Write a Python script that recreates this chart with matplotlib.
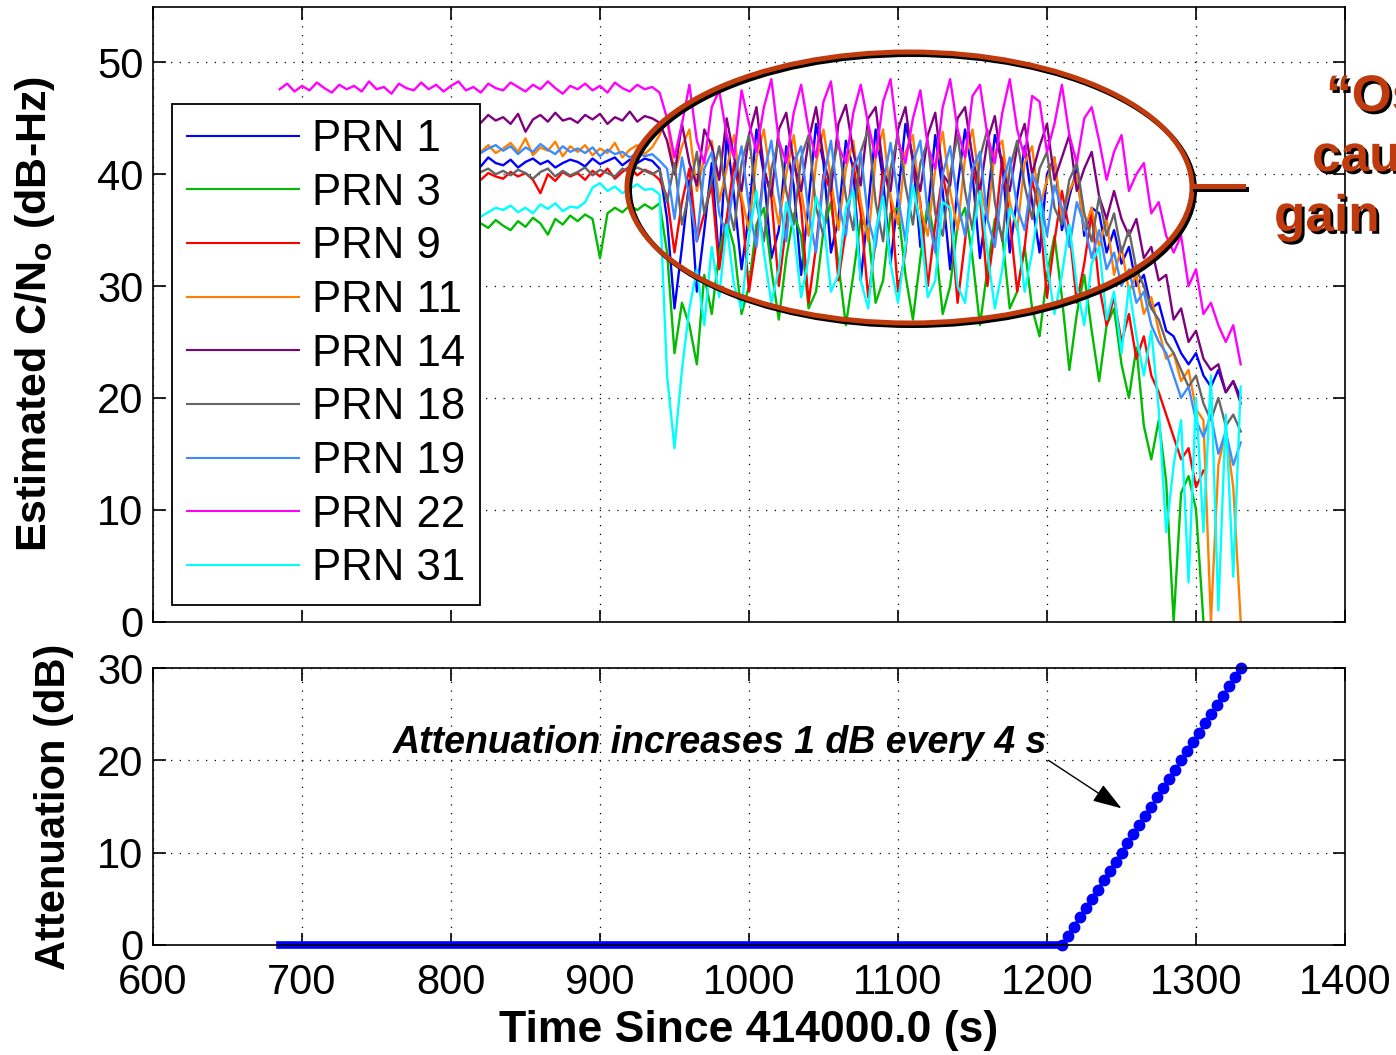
import numpy as np
import matplotlib
matplotlib.use("Agg")
import matplotlib.pyplot as plt
import matplotlib.patheffects as pe
from matplotlib.patches import Ellipse
from matplotlib.lines import Line2D

plt.rcParams["font.family"] = ["Liberation Sans", "DejaVu Sans"]
plt.rcParams["mathtext.fontset"] = "custom"
plt.rcParams["mathtext.rm"] = "Liberation Sans:bold"
plt.rcParams["mathtext.bf"] = "Liberation Sans:bold"

# ---------------------------------------------------------------------
# Data (one sample every 5 s from 685 s to 1330 s)
# ---------------------------------------------------------------------
t = np.arange(685, 1331, 5)
nan = np.nan

cn0_prn1 = [
    41.2, 40.7, 41.5, 40.9, 41.3, 40.6, 41.1, 41.4, 40.8, 41.2,
    40.9, 41.4, 40.6, 41.2, 40.8, 41.5, 41.0, 40.7, 41.3, 40.9,
    41.3, 40.8, 41.1, 40.5, 41.4, 40.9, 41.2, 40.7, 41.5, 41.0,
    40.8, 41.3, 40.6, 41.1, 41.4, 40.9, 41.2, 40.6, 41.0, 41.3,
    41.1, 40.7, 41.4, 40.9, 41.2, 41.5, 40.8, 41.3, 41.0, 41.4,
    41.2, 40.5, 36.0, 28.0, 33.5, 39.5, 29.5, 35.0, 41.0, 32.0,
    43.5, 38.0, 31.5, 36.5, 44.0, 40.0, 32.5, 35.0, 42.5, 39.0,
    31.0, 37.5, 44.5, 41.0, 33.0, 36.0, 43.0, 40.5, 30.5, 37.0,
    44.0, 39.5, 32.0, 38.0, 44.5, 41.5, 33.5, 36.5, 43.5, 38.5,
    31.5, 39.0, 44.0, 40.0, 32.5, 37.5, 43.5, 41.0, 33.0, 38.0,
    42.5, 37.5, 33.0, 40.0, 41.5, 35.0, 38.0, 40.5, 34.5, 37.0,
    36.5, 33.0, 35.0, 32.0, 33.5, 30.0, 31.0, 28.0, 28.5, 26.0,
    25.5, 24.0, 23.0, 24.0, 22.0, 21.0, 22.5, 20.5, 21.5, 20.0,
]
cn0_prn3 = [
    34.6, 34.1, 34.9, 34.3, 34.7, 33.9, 34.5, 34.8, 34.2, 34.6,
    34.3, 34.8, 34.0, 34.6, 34.4, 35.0, 34.2, 34.7, 34.5, 34.9,
    34.6, 35.1, 34.4, 35.0, 34.7, 35.3, 34.8, 35.6, 35.2, 35.9,
    35.4, 35.0, 35.8, 35.3, 36.1, 35.6, 34.6, 36.0, 35.5, 36.3,
    35.8, 36.4, 36.0, 32.5, 36.5, 37.0, 36.6, 37.2, 36.8, 37.3,
    36.9, 37.4, 33.0, 24.0, 28.5, 26.5, 23.0, 31.0, 27.5, 33.0,
    36.0, 33.5, 27.5, 30.0, 35.5, 37.0, 31.5, 27.0, 32.5, 36.5,
    34.5, 28.0, 29.5, 35.0, 37.5, 32.0, 26.5, 31.0, 36.0, 35.0,
    28.5, 30.5, 36.5, 37.0, 31.0, 27.0, 32.5, 37.5, 34.0, 27.5,
    30.0, 35.5, 37.0, 32.5, 26.5, 31.5, 36.0, 34.5, 28.0, 29.5,
    33.5, 28.0, 25.5, 31.0, 34.5, 29.0, 22.5, 27.5, 31.0, 26.0,
    21.5, 26.5, 28.0, 23.0, 20.0, 24.5, 17.5, 14.5, 18.0, 12.5,
    0.0, 11.5, 13.0, 10.0, 0.0, nan, nan, nan, nan, nan,
]
cn0_prn9 = [
    40.2, 39.6, 40.5, 39.9, 40.3, 39.5, 40.1, 40.6, 39.8, 40.0,
    39.7, 40.4, 38.9, 40.2, 39.6, 40.3, 39.9, 40.5, 39.4, 40.1,
    40.3, 39.7, 40.0, 39.3, 40.4, 39.8, 40.2, 39.5, 40.1, 39.8,
    39.6, 40.2, 39.8, 40.1, 39.5, 38.3, 40.0, 39.4, 40.2, 39.8,
    40.1, 39.5, 40.3, 39.8, 40.5, 39.6, 40.2, 40.7, 39.9, 40.4,
    40.1, 39.5, 38.0, 33.0, 37.5, 40.5, 34.0, 36.5, 39.0, 31.5,
    36.0, 41.0, 37.5, 29.5, 34.0, 40.5, 38.0, 30.0, 35.5, 41.5,
    37.0, 28.5, 33.5, 40.0, 38.5, 30.5, 35.0, 41.0, 36.5, 29.0,
    34.0, 40.5, 38.0, 29.5, 33.0, 41.0, 37.5, 30.0, 35.5, 40.0,
    36.5, 28.5, 34.0, 40.5, 38.0, 30.0, 35.0, 41.5, 36.0, 29.5,
    33.5, 39.5, 36.5, 29.0, 34.0, 38.5, 35.0, 28.5, 32.0, 36.5,
    30.0, 26.5, 29.0, 25.0, 27.5, 23.5, 25.5, 22.0, 20.5, 18.5,
    16.5, 14.5, 15.5, 12.0, 13.5, nan, nan, nan, nan, nan,
]
cn0_prn11 = [
    42.5, 42.0, 42.9, 41.6, 42.4, 42.8, 41.9, 42.3, 42.7, 41.8,
    42.4, 42.9, 42.1, 41.7, 42.6, 42.2, 43.0, 41.9, 42.5, 42.0,
    42.7, 42.1, 42.6, 43.1, 41.8, 42.4, 42.9, 42.0, 42.6, 41.9,
    42.3, 42.8, 42.0, 43.2, 41.7, 42.4, 42.1, 42.9, 41.6, 42.5,
    42.0, 42.6, 41.7, 42.3, 41.9, 42.8, 41.5, 42.2, 42.6, 41.8,
    42.4, 43.5, 45.0, 40.0, 42.5, 44.0, 38.5, 41.5, 43.0, 37.5,
    40.5, 43.5, 38.0, 35.0, 41.5, 44.0, 39.0, 35.5, 40.0, 43.5,
    38.5, 34.5, 41.0, 44.0, 39.5, 35.0, 40.5, 43.0, 37.5, 34.0,
    41.5, 44.0, 38.0, 35.5, 42.0, 43.5, 37.0, 34.5, 40.5, 43.8,
    38.5, 35.0, 41.5, 44.0, 39.0, 36.0, 42.0, 43.0, 37.5, 35.0,
    41.0, 42.5, 37.0, 39.5, 41.5, 36.0, 38.5, 40.0, 35.0, 37.0,
    33.5, 36.0, 31.0, 33.5, 29.5, 31.0, 27.5, 29.0, 26.0, 23.5,
    24.0, 21.5, 22.5, 19.0, 18.0, 0.0, 14.0, 17.0, 12.0, 0.0,
]
cn0_prn14 = [
    45.2, 44.6, 45.5, 44.9, 45.3, 44.4, 45.6, 45.0, 44.7, 45.4,
    44.8, 45.3, 43.9, 45.1, 44.6, 45.5, 44.9, 45.2, 44.5, 45.0,
    45.4, 44.7, 45.1, 44.3, 45.6, 44.9, 45.2, 44.6, 45.3, 44.8,
    45.1, 44.5, 45.4, 43.8, 44.9, 45.3, 44.7, 45.5, 44.8, 45.0,
    44.6, 45.3, 44.9, 45.4, 44.5, 45.1, 44.8, 45.6, 44.7, 45.2,
    45.0, 44.6, 43.0, 40.0, 44.5, 41.0, 39.0, 44.0, 42.5, 39.5,
    45.0, 41.5, 38.5, 43.5, 46.0, 40.5, 38.0, 44.0, 45.5, 41.0,
    38.5, 43.0, 46.0, 41.5, 38.5, 44.5, 46.2, 42.0, 39.0, 45.0,
    46.0, 40.5, 38.5, 44.0, 46.0, 41.0, 38.5, 43.5, 45.5, 40.0,
    39.0, 45.0, 46.0, 41.5, 38.5, 43.0, 45.2, 40.5, 38.5, 42.5,
    44.5, 40.0, 42.5, 44.5, 39.5, 41.5, 43.5, 38.5, 40.5, 42.0,
    38.0, 36.0, 38.5, 36.0, 34.5, 36.0, 32.5, 33.5, 30.5, 31.0,
    27.0, 28.0, 25.0, 26.0, 23.5, 22.5, 23.0, 20.5, 21.5, 19.5,
]
cn0_prn18 = [
    40.4, 39.9, 40.6, 40.1, 39.8, 40.5, 40.2, 39.7, 40.4, 40.0,
    40.3, 39.8, 40.6, 40.0, 40.4, 39.7, 40.2, 40.5, 39.9, 40.3,
    39.8, 40.4, 40.1, 40.6, 39.9, 40.3, 39.7, 40.2, 40.5, 40.0,
    40.3, 39.9, 40.4, 40.1, 39.6, 40.2, 40.5, 39.8, 40.3, 39.9,
    40.2, 40.6, 39.9, 40.4, 40.1, 39.8, 40.5, 40.2, 40.6, 40.3,
    40.0, 40.4, 37.5, 41.0, 35.5, 38.5, 42.0, 36.5, 39.5, 42.5,
    38.0, 35.0, 41.0, 43.5, 37.5, 34.0, 40.5, 43.0, 38.5, 35.5,
    41.5, 43.5, 37.0, 34.5, 40.0, 43.0, 38.0, 35.0, 42.0, 44.0,
    37.5, 34.0, 40.5, 43.5, 39.0, 35.5, 41.0, 43.0, 36.5, 34.5,
    40.0, 43.5, 38.5, 35.0, 41.5, 44.0, 37.5, 34.0, 40.5, 43.0,
    39.0, 36.0, 40.5, 42.0, 37.0, 35.5, 39.5, 41.0, 36.5, 34.0,
    38.0, 34.5, 36.5, 33.0, 35.0, 31.5, 30.0, 28.0, 27.0, 25.0,
    24.0, 22.5, 21.0, 22.0, 19.5, 18.0, 20.0, 17.5, 18.5, 17.0,
]
cn0_prn19 = [
    42.3, 41.8, 42.6, 42.0, 42.4, 41.7, 42.5, 42.1, 41.9, 42.6,
    42.0, 42.4, 41.6, 42.3, 42.7, 41.9, 42.2, 42.5, 41.8, 42.3,
    42.6, 42.0, 42.4, 41.7, 42.5, 42.1, 42.8, 41.9, 42.3, 42.6,
    42.1, 42.5, 41.8, 42.4, 42.0, 42.7, 42.2, 41.8, 42.5, 42.0,
    42.3, 41.9, 42.4, 41.6, 42.2, 41.8, 42.0, 41.5, 41.9, 41.6,
    41.8, 41.2, 40.5, 36.0, 41.5, 38.0, 34.0, 40.5, 42.0, 36.5,
    34.5, 39.5, 42.5, 37.0, 33.5, 40.0, 43.0, 38.0, 34.0, 41.0,
    42.5, 36.5, 33.0, 39.5, 43.0, 37.5, 34.5, 40.5, 42.0, 36.0,
    33.5, 39.0, 42.8, 38.0, 34.0, 41.0, 43.0, 36.5, 33.0, 40.0,
    42.5, 37.5, 34.5, 40.5, 42.0, 36.0, 33.5, 39.0, 41.5, 37.0,
    35.0, 40.0, 38.5, 34.5, 39.0, 37.0, 33.5, 37.5, 35.5, 32.5,
    35.0, 31.5, 33.0, 30.0, 31.5, 28.5, 29.5, 26.5, 25.0, 24.0,
    22.0, 20.0, 21.0, 18.0, 16.5, 18.5, 15.0, 17.0, 14.0, 16.0,
]
cn0_prn22 = [
    47.6, 48.1, 47.4, 47.9, 47.5, 48.2, 47.7, 47.3, 48.0, 47.6,
    47.9, 47.4, 48.3, 47.6, 47.8, 47.2, 48.1, 47.7, 47.5, 48.2,
    47.6, 48.0, 47.4, 47.9, 48.3, 47.5, 47.8, 47.3, 48.1, 47.7,
    47.5, 48.2, 47.8, 47.4, 48.0, 47.6, 48.3, 47.7, 47.2, 47.9,
    47.6, 48.1, 47.5, 47.9, 47.3, 48.2, 47.7, 47.4, 48.0, 47.6,
    47.8, 47.3, 45.0, 41.5, 44.5, 48.0, 43.0, 41.0, 46.0, 47.5,
    43.5, 41.5, 47.5, 44.5, 42.0, 46.0, 48.5, 43.0, 41.0, 45.5,
    48.0, 44.0, 41.5, 46.5, 48.3, 42.5, 41.0, 45.5, 48.0, 44.5,
    41.5, 46.5, 48.5, 43.0, 41.0, 45.0, 47.5, 42.5, 40.5, 46.0,
    48.5, 44.0, 41.5, 47.0, 48.0, 43.5, 41.0, 45.5, 48.5, 44.0,
    41.5, 47.0, 46.5, 42.0, 44.5, 48.0, 43.5, 41.0, 45.0, 46.0,
    43.0, 39.5, 42.0, 43.5, 38.5, 40.0, 41.0, 36.5, 37.5, 34.5,
    33.0, 34.5, 30.0, 31.5, 27.5, 28.5, 26.5, 25.0, 26.5, 23.0,
]
cn0_prn31 = [
    36.2, 35.8, 36.5, 36.0, 36.4, 35.7, 36.3, 36.6, 35.9, 36.2,
    36.5, 36.0, 36.3, 35.8, 36.6, 36.1, 36.4, 35.9, 36.7, 36.2,
    36.4, 36.8, 36.1, 36.5, 36.9, 36.3, 36.7, 36.2, 36.6, 37.0,
    36.8, 37.2, 36.6, 37.0, 36.5, 37.3, 36.9, 37.4, 36.7, 37.1,
    37.0, 37.5, 38.8, 39.2, 38.5, 38.9, 38.3, 38.7, 39.1, 38.6,
    38.7, 38.2, 22.0, 15.5, 22.5, 28.0, 31.5, 26.5, 33.5, 29.0,
    35.5, 30.0, 28.0, 34.5, 38.5, 33.0, 28.5, 31.5, 37.5, 35.0,
    29.0, 32.5, 38.0, 36.0, 29.5, 31.0, 37.0, 38.5, 30.5, 28.0,
    35.0, 38.0, 32.0, 28.5, 33.5, 39.0, 35.5, 29.0, 30.5, 37.5,
    37.0, 30.0, 28.5, 34.5, 38.5, 33.0, 28.0, 31.5, 37.0, 35.5,
    29.5, 33.0, 37.5, 32.0, 27.5, 31.0, 35.5, 30.0, 26.5, 32.0,
    33.5, 27.0, 29.5, 24.0, 30.0, 25.5, 22.0, 26.0, 19.0, 8.0,
    14.0, 18.0, 3.5, 20.0, 8.0, 22.0, 1.0, 18.5, 4.0, 21.0,
]

prn_labels = ["PRN 1", "PRN 3", "PRN 9", "PRN 11", "PRN 14",
              "PRN 18", "PRN 19", "PRN 22", "PRN 31"]
prn_colors = ["#0000FF", "#00BB00", "#FF0000", "#FF8000", "#800080",
              "#666666", "#3C8CFF", "#FF00FF", "#00FFFF"]
prn_values = [cn0_prn1, cn0_prn3, cn0_prn9, cn0_prn11, cn0_prn14,
              cn0_prn18, cn0_prn19, cn0_prn22, cn0_prn31]

# attenuation schedule: flat at 0 dB, then 1 dB every 4 s
atten_flat_t = [685, 1210]
atten_flat_db = [0, 0]
atten_ramp_t = [1210, 1214, 1218, 1222, 1226, 1230, 1234, 1238, 1242, 1246,
                1250, 1254, 1258, 1262, 1266, 1270, 1274, 1278, 1282, 1286,
                1290, 1294, 1298, 1302, 1306, 1310, 1314, 1318, 1322, 1326,
                1330]
atten_ramp_db = [0, 1, 2, 3, 4, 5, 6, 7, 8, 9, 10, 11, 12, 13, 14, 15, 16,
                 17, 18, 19, 20, 21, 22, 23, 24, 25, 26, 27, 28, 29, 30]

# ---------------------------------------------------------------------
# Figure
# ---------------------------------------------------------------------
W, H = 1396, 1055
fig = plt.figure(figsize=(W / 100, H / 100), dpi=100)
ax1 = fig.add_axes([153 / W, 1 - 621.5 / H, 1192 / W, 615 / H])
ax2 = fig.add_axes([153 / W, 1 - 945 / H, 1192 / W, 277 / H])


def style_axes(ax):
    ax.set_xlim(600, 1400)
    ax.set_xticks(range(600, 1401, 100))
    ax.tick_params(direction="in", length=9, width=1.2, top=True,
                   right=True, labelsize=30, pad=7)
    ax.tick_params(axis="x", pad=13)
    ax.grid(True, color="black", linestyle=(0, (1, 6)), linewidth=0.9)
    for s in ax.spines.values():
        s.set_linewidth(1.2)


# top: C/N0
for label, vals, col in zip(prn_labels, prn_values, prn_colors):
    ax1.plot(t, vals, color=col, lw=1.7, label=label)

style_axes(ax1)
ax1.set_ylim(0, 55)
ax1.set_yticks([0, 10, 20, 30, 40, 50])
ax1.tick_params(labelbottom=False)
ax1.set_ylabel(r"Estimated C/N$_\mathrm{o}$ (dB-Hz)", fontsize=31,
               fontweight="bold", va="center")
ax1.yaxis.set_label_coords(-0.099, 0.5)

leg = ax1.legend(loc="upper left", bbox_to_anchor=(0.016, 0.842),
                 fontsize=31.5, handlelength=2.54, handletextpad=0.3,
                 labelspacing=0.29, borderpad=0.35, borderaxespad=0,
                 fancybox=False, framealpha=1, edgecolor="black")
leg.get_frame().set_linewidth(1.3)
for h in leg.get_lines():
    h.set_linewidth(1.5)

# bottom: attenuation
ax2.plot(atten_flat_t, atten_flat_db, color="#0000FF", lw=5.5,
         clip_on=False)
ax2.plot(atten_ramp_t, atten_ramp_db, color="#0000FF", lw=2,
         marker="o", ms=7.5, clip_on=False)
style_axes(ax2)
ax2.set_ylim(0, 30)
ax2.set_yticks([0, 10, 20, 30])
ax2.set_ylabel("Attenuation (dB)", fontsize=30, fontweight="bold",
               va="center")
ax2.yaxis.set_label_coords(-0.083, 0.5)
ax2.set_xlabel("Time Since 414000.0 (s)", fontsize=32, fontweight="bold",
               labelpad=5)

ax2.text(761, 20.8, "Attenuation increases 1 dB every 4 s", fontsize=27,
         fontweight="bold", fontstyle="italic", ha="left", va="baseline")
ax2.annotate("", xy=(1250, 14.8), xytext=(1201, 20.0),
             arrowprops=dict(arrowstyle="-|>,head_length=0.6,head_width=0.2",
                             color="black", lw=1, mutation_scale=30,
                             shrinkA=0, shrinkB=0))

# ---------------------------------------------------------------------
# Call-out: ellipse, connector and cut-off note on the right
# ---------------------------------------------------------------------
callout = "#BF3A0C"
cx, cy, ew, eh = 909.5, 187.5, 565, 271
off = 2.5
fig.add_artist(Ellipse(((cx + off) / W, 1 - (cy + off) / H), ew / W, eh / H,
                       transform=fig.transFigure, fill=False,
                       edgecolor="black", lw=3.6))
fig.add_artist(Ellipse((cx / W, 1 - cy / H), ew / W, eh / H,
                       transform=fig.transFigure, fill=False,
                       edgecolor=callout, lw=3.6))
fig.add_artist(Line2D([(1192 + off) / W, (1243 + off) / W],
                      [1 - (186 + off) / H, 1 - (186 + off) / H],
                      transform=fig.transFigure, color="black", lw=3.6))
fig.add_artist(Line2D([1192 / W, 1243 / W], [1 - 186 / H, 1 - 186 / H],
                      transform=fig.transFigure, color=callout, lw=3.6))

shadow = [pe.withSimplePatchShadow(offset=(2, -2), shadow_rgbFace="black",
                                   alpha=1.0)]
note_lines = [("\u201cOscillations\u201d", 1326, 111),
              ("caused by", 1312, 171),
              ("gain pattern", 1274, 231)]
for txt, px, py in note_lines:
    fig.text(px / W, 1 - py / H, txt, fontsize=37, fontweight="bold",
             color=callout, ha="left", va="baseline", path_effects=shadow)

fig.savefig("out.png", dpi=100)
